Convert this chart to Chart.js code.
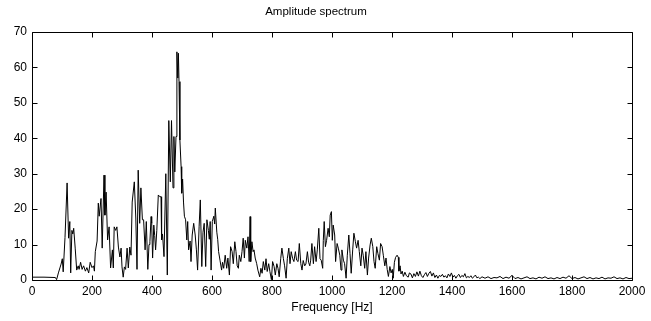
<!DOCTYPE html>
<html>
<head>
<meta charset="utf-8">
<script src="https://cdn.jsdelivr.net/npm/chart.js@4/dist/chart.umd.min.js"></script>
<style>
html,body{margin:0;padding:0;background:#fff;}
canvas{display:block;}
</style>
</head>
<body>
<canvas id="c" width="651" height="321"></canvas>
<script>
const chartTitle = "Amplitude spectrum";
const xAxisLabel = "Frequency [Hz]";
const xTickValues = [0,200,400,600,800,1000,1200,1400,1600,1800,2000];
const yTickValues = [0,10,20,30,40,50,60,70];

const frequencyHz = [
0,40,78,82,88,93,97,101,104,110,117,122,126,129,133,136,139,144,149,154,157,162,167,172,178,183,189,194,200,205,208,
211,217,221,224,230,234,240,243,247,252,257,262,268,271,274,279,283,288,293,297,300,304,308,312,317,321,326,330,
334,341,346,350,354,359,363,368,372,377,381,386,390,393,397,399,402,406,409,412,416,421,426,430,432,435,440,446,451,
456,461,465,470,473,476,480,483,486,488,490,493,497,499,502,505,508,512,516,519,522,527,530,534,539,544,548,552,557,
561,566,570,574,579,583,588,591,594,597,601,606,609,611,616,619,622,627,632,635,639,644,649,653,658,662,667,671,676,
680,684,688,691,696,700,704,708,711,716,720,724,727,729,733,737,740,744,749,753,759,763,767,771,776,780,784,789,793,
798,802,807,811,816,820,824,829,833,838,842,847,851,856,860,864,869,873,878,882,887,891,896,900,904,909,913,918,922,
926,929,933,938,942,947,951,956,960,964,969,971,974,978,982,987,991,994,998,1001,1004,1009,1012,1017,1021,1026,1030,
1033,1038,1042,1047,1051,1056,1060,1064,1069,1073,1078,1082,1087,1091,1096,1100,1104,1109,1113,1118,1122,1127,1131,
1136,1140,1144,1149,1153,1158,1162,1167,1171,1176,1180,1184,1188,1193,1197,1201,1204,1208,1212,1217,1221,1223,1227,
1230,1234,1238,1243,1248,1254,1258,1263,1268,1273,1278,1283,1288,1293,1298,1303,1308,1313,1318,1323,1328,1333,1338,
1343,1348,1353,1358,1363,1368,1373,1378,1383,1388,1393,1398,1403,1408,1413,1418,1423,1428,1433,1438,1443,1448,1453,
1458,1463,1468,1473,1478,1483,1488,1493,1500,1510,1520,1530,1540,1550,1560,1570,1580,1590,1600,1610,1620,1630,1640,
1650,1660,1670,1680,1690,1700,1710,1720,1730,1740,1750,1760,1770,1780,1790,1800,1810,1820,1830,1840,1850,1860,1870,
1880,1890,1900,1910,1920,1930,1940,1950,1960,1970,1980,1990,2000
];

const amplitude = [
0.8,0.8,0.7,0.1,2,3.4,4.5,6,2.3,12,27.4,11.8,16.5,2,14,13,14.6,9,2.8,4,3,5,3,4,2.5,3.5,2,5,3.5,4,2.5,
8,11,21.7,18,23,9,29.6,18.3,24.8,11.3,15,3.4,8.5,3.4,15,14,15,9.3,6.5,9,3.7,0.8,3.7,3,9,3.4,9.3,7,
22,27.7,17.5,3,31,16,26,17,17,8.5,16.5,3,10,10.8,17.9,16,6.2,15.5,12.6,8.5,14,24,23.5,23.5,11.3,13,6.6,30,1.4,
45,27.7,45,26,40.5,30.5,40.5,64.4,57,64,56,39.5,32,24.5,28.5,22,18,17,11.3,16.5,8.5,11,5.2,12.7,16,12.7,8.5,2.8,15,
22.6,3.8,13.5,16,3.8,17,14,11.5,16.5,2.8,16.5,18,15.8,20.3,13.5,11.5,8,5.4,2.8,5,3.3,7,3.3,6.2,1.4,9.4,8,4.6,10.8,
8,4,3.3,7,5.2,8,11.8,6.2,11.2,9,12.2,5.2,17.9,5.2,10.8,8,8.5,6.2,4.6,2.8,0.9,3.3,1.9,5.2,2.8,6,2.4,4.6,2.4,
0.1,5.2,3.8,1.4,4.6,3.3,0.9,6,9,6,4,0.5,6,9,4.6,8,6,5.2,8,5.6,5.2,10.3,4.6,2.8,5.5,4,4.5,8,5,
4,5.6,10.3,4.6,9.4,5.2,8.5,14.6,6,5.6,3.3,11.2,16.5,9.4,11.2,14.6,12.2,18.3,19.3,11.2,15.5,12.7,5.2,10.3,9,7,2.8,
8.5,5.6,4.6,0.5,7,12.7,7.5,1.9,8.5,13.2,10.8,9,11.2,8,4,9,7,3.3,8,1.4,6.2,9.9,11.8,
9.4,5.2,3.3,9.4,7.5,5.6,10.3,9.4,7,4,6.2,3,1,3.8,2,3,0.5,5,6.4,7,6.4,2.5,4,
1.7,2.5,1,2.2,1.2,0.8,2,1.7,0.6,1.8,1,2.3,1.1,2.5,1.2,0.7,1.5,2.1,1,1.9,2.4,1.1,2,
0.7,1.4,0.5,1.3,1,1.6,0.8,1.2,0.6,1.7,1,2,0.8,1.3,0.5,1.2,1.6,0.7,1.3,0.9,1.8,0.6,1,
0.7,1.2,0.5,0.9,1.4,0.6,0.8,0.4,0.9,0.5,0.9,0.4,0.7,0.6,1.0,0.4,0.8,0.5,1.3,0.4,0.7,0.3,0.6,
0.9,0.4,0.6,0.3,0.8,0.5,0.9,0.4,0.6,0.3,0.7,0.4,0.8,0.5,1.2,0.4,0.7,0.3,0.6,0.9,0.4,0.7,0.3,
0.6,0.4,0.8,0.3,0.6,0.5,0.9,0.4,0.6,0.3,0.7,0.4,0.5
];

const FONT = '"Liberation Sans", Arial, Helvetica, sans-serif';

const framePlugin = {
  id: 'matlabFrame',
  afterDatasetsDraw(chart) {
    const {ctx, chartArea: a, scales} = chart;
    const L = Math.round(a.left) + 0.5, R = Math.round(a.right) + 0.5;
    const T = Math.round(a.top) + 0.5, B = Math.round(a.bottom) + 0.5;
    ctx.save();
    ctx.strokeStyle = '#000';
    ctx.lineWidth = 1;
    ctx.beginPath();
    ctx.rect(L, T, R - L, B - T);
    const tl = 5;
    xTickValues.forEach(v => {
      const x = Math.round(scales.x.getPixelForValue(v)) + 0.5;
      ctx.moveTo(x, B); ctx.lineTo(x, B - tl);
      ctx.moveTo(x, T); ctx.lineTo(x, T + tl);
    });
    yTickValues.forEach(v => {
      const y = Math.round(scales.y.getPixelForValue(v)) + 0.5;
      ctx.moveTo(L, y); ctx.lineTo(L + tl, y);
      ctx.moveTo(R, y); ctx.lineTo(R - tl, y);
    });
    ctx.stroke();
    ctx.restore();
  }
};

new Chart(document.getElementById('c'), {
  type: 'line',
  data: {
    datasets: [{
      data: frequencyHz.map((f, i) => ({x: f, y: amplitude[i]})),
      borderColor: '#000',
      borderWidth: 1,
      pointRadius: 0,
      tension: 0,
      fill: false
    }]
  },
  options: {
    responsive: false,
    animation: false,
    devicePixelRatio: 1,
    layout: {padding: {left: 0, right: 19, top: 0, bottom: 0}},
    plugins: {
      legend: {display: false},
      tooltip: {enabled: false},
      title: {
        display: true,
        text: chartTitle,
        color: '#000',
        font: {family: FONT, size: 11.5, weight: 'normal', lineHeight: 1.2},
        padding: {top: 5.1, bottom: 13.1}
      }
    },
    scales: {
      x: {
        type: 'linear',
        min: 0, max: 2000,
        afterBuildTicks: s => { s.ticks = xTickValues.map(v => ({value: v})); },
        afterFit: s => { s.height = 41; },
        grid: {display: false, drawTicks: false},
        border: {display: false},
        ticks: {color: '#000', font: {family: FONT, size: 12}, padding: 4.8, maxRotation: 0, autoSkip: false,
                callback: v => String(v)},
        title: {display: true, text: xAxisLabel, color: '#000', font: {family: FONT, size: 12}, padding: {top: 0, bottom: 5.8}}
      },
      y: {
        type: 'linear',
        min: 0, max: 70,
        afterBuildTicks: s => { s.ticks = yTickValues.map(v => ({value: v})); },
        afterFit: s => { s.width = 32; },
        grid: {display: false, drawTicks: false},
        border: {display: false},
        ticks: {color: '#000', font: {family: FONT, size: 12}, padding: 5, callback: v => String(v)}
      }
    }
  },
  plugins: [framePlugin]
});
</script>
</body>
</html>
